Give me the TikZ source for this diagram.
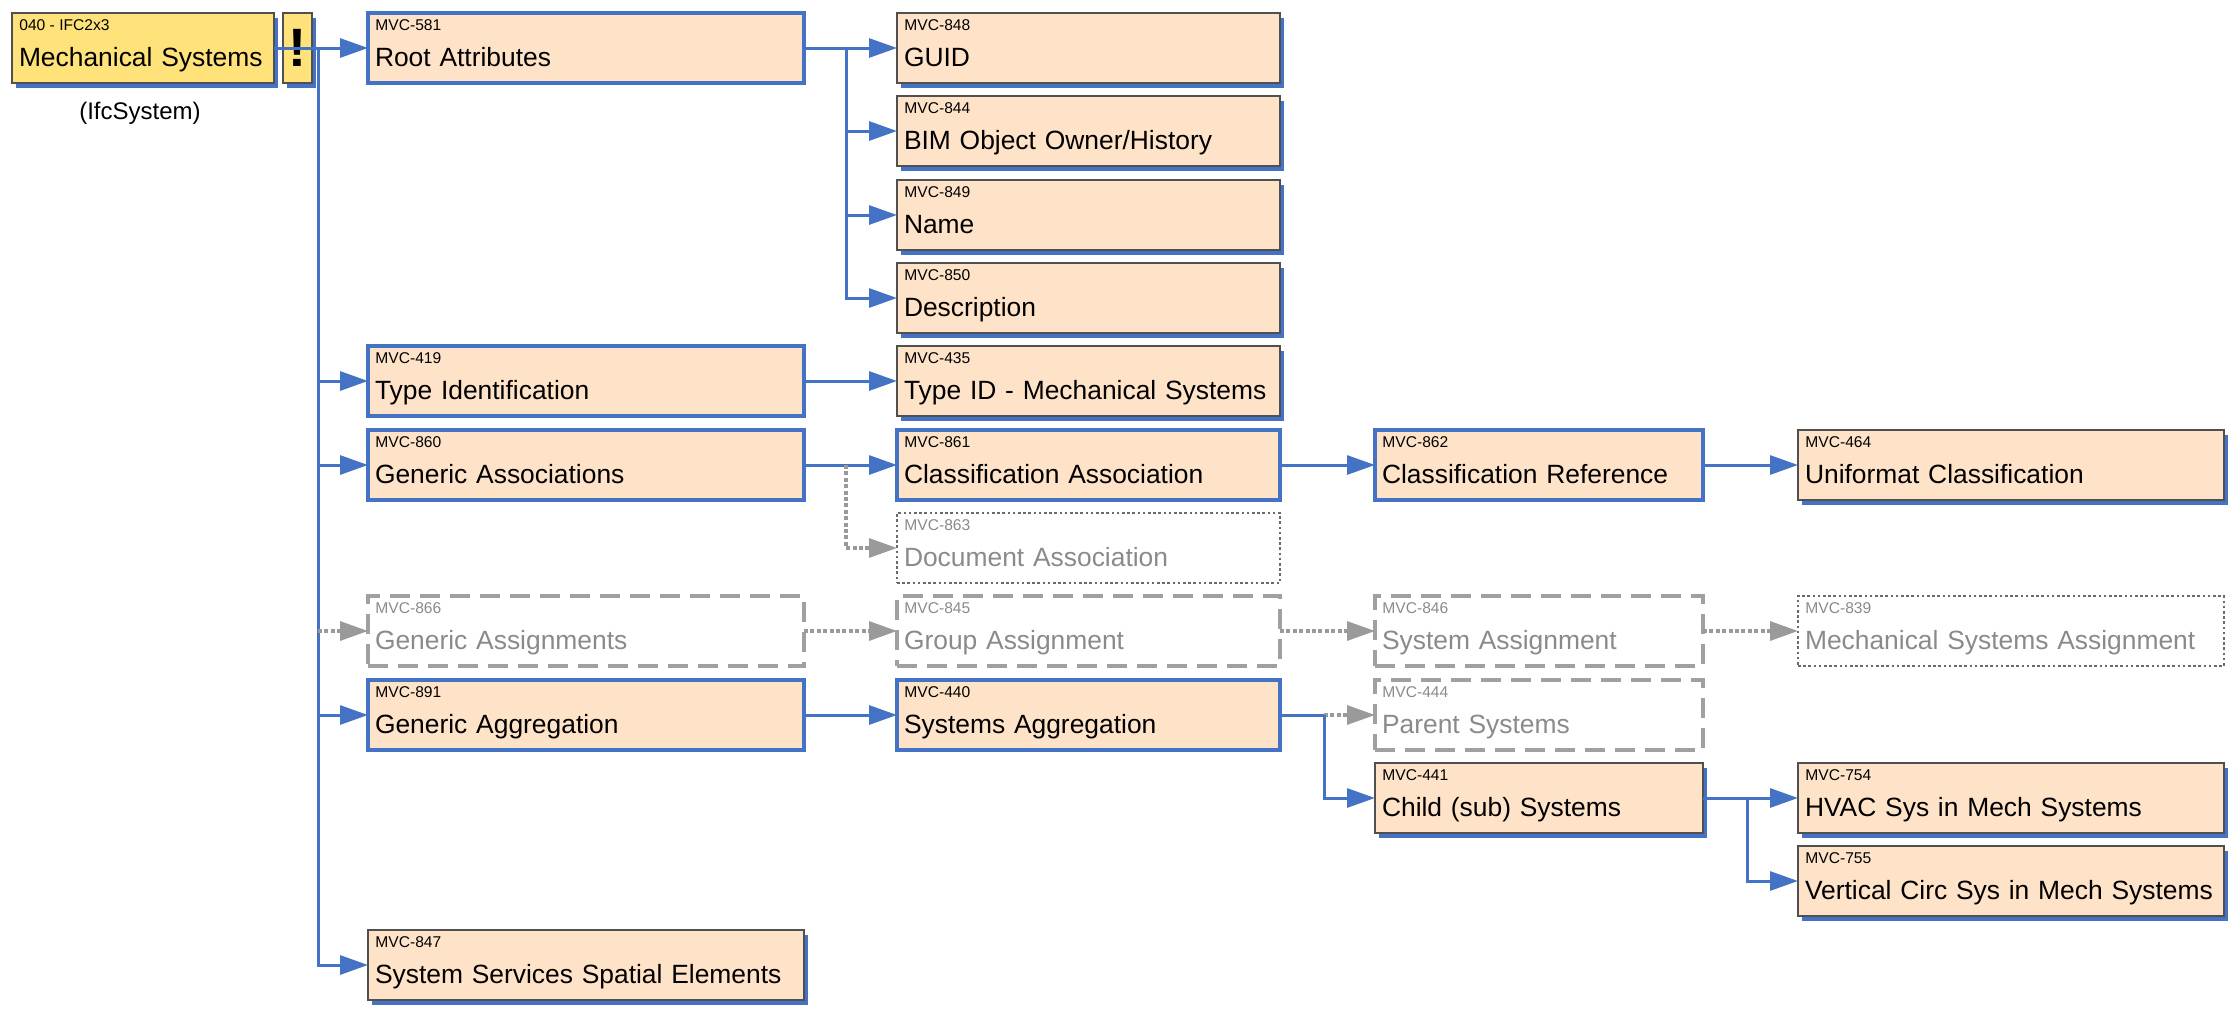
\documentclass[tikz,border=0pt]{standalone}
\usepackage{fontspec}
\setmainfont{Liberation Sans}
\usetikzlibrary{arrows.meta,shadows,positioning}

\definecolor{peach}{HTML}{FFE3C8}
\definecolor{mechyellow}{HTML}{FFE27A}
\definecolor{lnblue}{HTML}{4472C4}
\definecolor{edge}{HTML}{505050}
\definecolor{optedge}{HTML}{6A6A6A}
\definecolor{offgray}{HTML}{A0A0A0}
\definecolor{txtgray}{HTML}{8A8A8A}
\definecolor{lkgray}{HTML}{9A9A9A}

\begin{document}
\begin{tikzpicture}[
    x = 0.5pt, y = -0.5pt,
    base/.style = {rectangle, anchor=north west, minimum height=35pt, inner xsep=3.5pt, inner ysep=0pt,
                   outer sep=0pt, align=left, text height=21pt, text depth=3pt, font=\fontsize{13.2}{15}\selectfont},
    leaf/.style = {base, fill=peach, draw=edge, line width=0.8pt,
                   drop shadow={shadow xshift=2pt, shadow yshift=-2.5pt, fill=lnblue, opacity=1}},
    expanded/.style = {base, fill=peach, draw=lnblue, line width=1.6pt},
    inactive/.style = {base, draw=offgray, line width=2pt, dash pattern=on 10pt off 5pt, text=txtgray},
    optional/.style = {base, draw=optedge, line width=0.6pt, dash pattern=on 1.3pt off 1.3pt, text=txtgray},
    mechbox/.style = {leaf, fill=mechyellow},
    mvcid/.style = {below right, inner xsep=3.5pt, inner ysep=3pt, font=\fontsize{7.8}{9}\selectfont},
    mvcgray/.style = {mvcid, text=txtgray},
    c1/.style = {minimum width=218pt, text width=211pt},
    c2/.style = {minimum width=191.5pt, text width=184.5pt},
    c3/.style = {minimum width=164pt, text width=157pt},
    c4/.style = {minimum width=213pt, text width=206pt},
    link/.style = {draw=lnblue, line width=1.5pt, -{Triangle[length=14pt,width=9.5pt]}},
    dlink/.style = {draw=lkgray, line width=1.6pt, dash pattern=on 2pt off 1.2pt, -{Triangle[length=14pt,width=9.5pt]}}
    ]
    \useasboundingbox (0,0) rectangle (2240,1013);

    \node[mechbox, minimum width=131pt, text width=124pt, label={[mvcid]north west:040 - IFC2x3}] (ms) at (12,13) {Mechanical Systems};
    \node[mechbox, minimum width=14.5pt, text width=, align=center, inner xsep=0pt, text height=, text depth=,
          font=\bfseries\fontsize{27}{27}\selectfont] (warn) at (283,13) {!};
    \node[font=\fontsize{12}{14}\selectfont] (ifc) at (140,113) {(IfcSystem)};

    \node[expanded, c1, label={[mvcid]north west:MVC-581}] (ra) at (368,13) {Root Attributes};
    \node[expanded, c1, label={[mvcid]north west:MVC-419}] (ti) at (368,346) {Type Identification};
    \node[expanded, c1, label={[mvcid]north west:MVC-860}] (gas) at (368,430) {Generic Associations};
    \node[inactive, c1, label={[mvcgray]north west:MVC-866}] (gasn) at (368,596) {Generic Assignments};
    \node[expanded, c1, label={[mvcid]north west:MVC-891}] (gag) at (368,680) {Generic Aggregation};
    \node[leaf, c1, label={[mvcid]north west:MVC-847}] (sse) at (368,930) {System Services Spatial Elements};

    \node[leaf, c2, label={[mvcid]north west:MVC-848}] (guid) at (897,13) {GUID};
    \node[leaf, c2, label={[mvcid]north west:MVC-844}] (bim) at (897,96) {BIM Object Owner/History};
    \node[leaf, c2, label={[mvcid]north west:MVC-849}] (name) at (897,180) {Name};
    \node[leaf, c2, label={[mvcid]north west:MVC-850}] (desc) at (897,263) {Description};
    \node[leaf, c2, label={[mvcid]north west:MVC-435}] (tid) at (897,346) {Type ID - Mechanical Systems};
    \node[expanded, c2, label={[mvcid]north west:MVC-861}] (ca) at (897,430) {Classification Association};
    \node[optional, c2, label={[mvcgray]north west:MVC-863}] (doc) at (897,513) {Document Association};
    \node[inactive, c2, label={[mvcgray]north west:MVC-845}] (grp) at (897,596) {Group Assignment};
    \node[expanded, c2, label={[mvcid]north west:MVC-440}] (sa) at (897,680) {Systems Aggregation};

    \node[expanded, c3, label={[mvcid]north west:MVC-862}] (cr) at (1375,430) {Classification Reference};
    \node[inactive, c3, label={[mvcgray]north west:MVC-846}] (sysa) at (1375,596) {System Assignment};
    \node[inactive, c3, label={[mvcgray]north west:MVC-444}] (par) at (1375,680) {Parent Systems};
    \node[leaf, c3, label={[mvcid]north west:MVC-441}] (ch) at (1375,763) {Child (sub) Systems};

    \node[leaf, c4, label={[mvcid]north west:MVC-464}] (uni) at (1798,430) {Uniformat Classification};
    \node[optional, c4, label={[mvcgray]north west:MVC-839}] (msa) at (1798,596) {Mechanical Systems Assignment};
    \node[leaf, c4, label={[mvcid]north west:MVC-754}] (hvac) at (1798,763) {HVAC Sys in Mech Systems};
    \node[leaf, c4, label={[mvcid]north west:MVC-755}] (vc) at (1798,846) {Vertical Circ Sys in Mech Systems};

    \coordinate (trunk) at ([xshift=22pt]ms.east);
    \draw[link] (ms.east) -- (ra.west);
    \draw[link] (trunk) |- (ti.west);
    \draw[link] (trunk) |- (gas.west);
    \draw[link] (trunk) |- (gag.west);
    \draw[link] (trunk) |- (sse.west);
    \draw[dlink] (trunk |- gasn.west) -- (gasn.west);

    \coordinate (rbus) at ([xshift=21pt]ra.east);
    \draw[link] (ra.east) -- (guid.west);
    \draw[link] (ra.east) -- (rbus) |- (bim.west);
    \draw[link] (ra.east) -- (rbus) |- (name.west);
    \draw[link] (ra.east) -- (rbus) |- (desc.west);

    \draw[link] (ti.east) -- (tid.west);
    \draw[link] (gas.east) -- (ca.west);
    \coordinate (abus) at ([xshift=21pt]gas.east);
    \draw[dlink] (abus) |- (doc.west);
    \draw[link] (ca.east) -- (cr.west);
    \draw[link] (cr.east) -- (uni.west);

    \draw[dlink] (gasn.east) -- (grp.west);
    \draw[dlink] (grp.east) -- (sysa.west);
    \draw[dlink] (sysa.east) -- (msa.west);

    \draw[link] (gag.east) -- (sa.west);
    \coordinate (sbus) at ([xshift=22pt]sa.east);
    \draw[draw=lnblue, line width=1.5pt] (sa.east) -- (sbus);
    \draw[dlink] (sbus) -- (par.west);
    \draw[link] (sbus) |- (ch.west);

    \coordinate (cbus) at ([xshift=22pt]ch.east);
    \draw[link] (ch.east) -- (hvac.west);
    \draw[link] (ch.east) -- (cbus) |- (vc.west);
\end{tikzpicture}
\end{document}
